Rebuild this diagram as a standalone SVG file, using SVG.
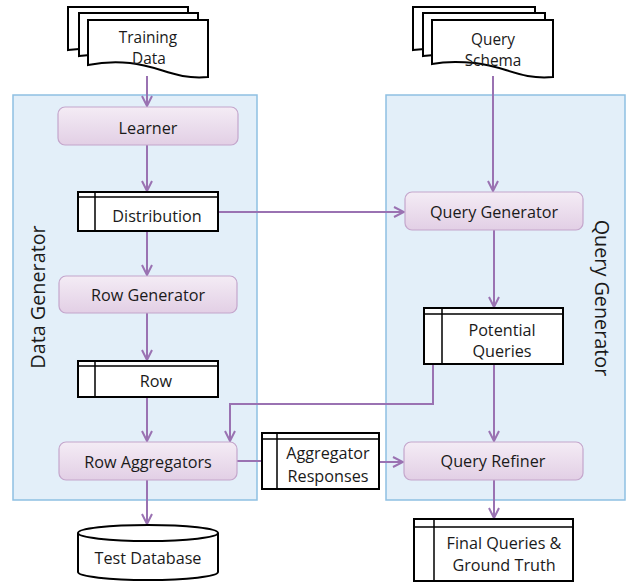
<svg xmlns="http://www.w3.org/2000/svg" width="629" height="585" viewBox="0 0 629 585">
  <defs>
    <linearGradient id="proc" x1="0" y1="0" x2="0" y2="1">
      <stop offset="0" stop-color="#f4ecf5"/>
      <stop offset="1" stop-color="#e2cfe5"/>
    </linearGradient>
    <marker id="arr" viewBox="0 0 12 12" refX="11" refY="6" markerWidth="12" markerHeight="12" markerUnits="userSpaceOnUse" orient="auto">
      <path d="M1,1 L11,6 L1,11" fill="none" stroke="#9a72b2" stroke-width="2"/>
    </marker>
    <style>
      .group { fill: #e3eff9; stroke: #8ec0e2; stroke-width: 1.5; }
      .proc { fill: url(#proc); stroke: #c4a6cc; stroke-width: 1.2; }
      .store { fill: #ffffff; stroke: #000000; stroke-width: 2; }
      .doc { fill: #ffffff; stroke: #000000; stroke-width: 2; }
      .thin { fill: none; stroke: #000000; stroke-width: 1.5; }
      .conn { fill: none; stroke: #9a72b2; stroke-width: 2; }
      text { font-family: "Open Sans", "Liberation Sans", sans-serif; font-size: 16.2px; fill: #1a1a1a; text-anchor: middle; }
      .doctext { font-size: 15.4px; }
      .side { font-size: 19.8px; }
    </style>
  </defs>

  <!-- swimlane containers -->
  <g id="data-generator">
    <rect class="group" x="13" y="95" width="244" height="405"/>
    <text class="side" transform="translate(45,297) rotate(-90)">Data Generator</text>
  </g>
  <g id="query-generator">
    <rect class="group" x="386" y="95" width="239" height="405"/>
    <text class="side" transform="translate(595,298) rotate(90)">Query Generator</text>
  </g>

  <!-- connectors -->
  <g id="connectors">
    <path class="conn" d="M147,76 V106" marker-end="url(#arr)"/>
    <path class="conn" d="M147,145 V191" marker-end="url(#arr)"/>
    <path class="conn" d="M147,231 V275" marker-end="url(#arr)"/>
    <path class="conn" d="M147,313 V360" marker-end="url(#arr)"/>
    <path class="conn" d="M147,397 V441" marker-end="url(#arr)"/>
    <path class="conn" d="M147,480 V524" marker-end="url(#arr)"/>
    <path class="conn" d="M218,212 H404" marker-end="url(#arr)"/>
    <path class="conn" d="M493,76 V191" marker-end="url(#arr)"/>
    <path class="conn" d="M494,230 V307" marker-end="url(#arr)"/>
    <path class="conn" d="M494,364 V441" marker-end="url(#arr)"/>
    <path class="conn" d="M433,364 V404 H230 V441" marker-end="url(#arr)"/>
    <path class="conn" d="M237,461 H262"/>
    <path class="conn" d="M379,462 H403" marker-end="url(#arr)"/>
    <path class="conn" d="M494,480 V518" marker-end="url(#arr)"/>
  </g>

  <!-- input documents -->
  <g id="training-data">
    <path class="doc" d="M68,7 H188 V52 C150,58 110,44 68,50 Z"/>
    <path class="doc" d="M79,13 H198 V58 C160,64 120,50 79,56 Z"/>
    <path class="doc" d="M88,20 H208 V77 C175,80 160,66 130,63 C110,61 98,63 88,65 Z"/>
    <text class="doctext" x="148" y="43">Training</text>
    <text class="doctext" x="149" y="64">Data</text>
  </g>
  <g id="query-schema">
    <path class="doc" d="M413,7 H535 V52 C497,58 456,44 413,50 Z"/>
    <path class="doc" d="M423,13 H545 V58 C507,64 466,50 423,56 Z"/>
    <path class="doc" d="M432,20 H553 V77 C520,80 505,66 475,63 C455,61 442,62 432,64 Z"/>
    <text class="doctext" x="493" y="45">Query</text>
    <text class="doctext" x="493" y="66">Schema</text>
  </g>

  <!-- data generator steps -->
  <g id="learner">
    <rect class="proc" x="58" y="107" width="180" height="38" rx="7"/>
    <text x="148" y="134">Learner</text>
  </g>
  <g id="distribution">
    <rect class="store" x="78" y="192" width="140" height="39"/>
    <path class="thin" d="M78,197 H218 M95,192 V231"/>
    <text x="157" y="222">Distribution</text>
  </g>
  <g id="row-generator">
    <rect class="proc" x="59" y="276" width="178" height="37" rx="7"/>
    <text x="148" y="301">Row Generator</text>
  </g>
  <g id="row">
    <rect class="store" x="78" y="361" width="140" height="36"/>
    <path class="thin" d="M78,366 H218 M95,361 V397"/>
    <text x="156" y="387">Row</text>
  </g>
  <g id="row-aggregators">
    <rect class="proc" x="59" y="442" width="178" height="38" rx="7"/>
    <text x="148" y="468">Row Aggregators</text>
  </g>
  <g id="test-database">
    <path class="store" d="M78,533 V572 A70,8 0 0 0 218,572 V533"/>
    <ellipse class="store" cx="148" cy="533" rx="70" ry="8"/>
    <text x="148" y="564">Test Database</text>
  </g>

  <!-- hand-off between lanes -->
  <g id="aggregator-responses">
    <rect class="store" x="262" y="433" width="117" height="56"/>
    <path class="thin" d="M262,439 H379 M277,433 V489"/>
    <text x="328" y="459">Aggregator</text>
    <text x="328" y="482">Responses</text>
  </g>

  <!-- query generator steps -->
  <g id="query-generator-step">
    <rect class="proc" x="405" y="192" width="178" height="38" rx="7"/>
    <text x="494" y="218">Query Generator</text>
  </g>
  <g id="potential-queries">
    <rect class="store" x="424" y="308" width="139" height="56"/>
    <path class="thin" d="M424,314 H563 M442,308 V364"/>
    <text x="502" y="336">Potential</text>
    <text x="502" y="357">Queries</text>
  </g>
  <g id="query-refiner">
    <rect class="proc" x="404" y="442" width="179" height="38" rx="7"/>
    <text x="493" y="467">Query Refiner</text>
  </g>
  <g id="final-queries">
    <rect class="store" x="414" y="519" width="159" height="62"/>
    <path class="thin" d="M414,527 H573 M434,519 V581"/>
    <text x="504" y="549">Final Queries &amp;</text>
    <text x="504" y="571">Ground Truth</text>
  </g>
</svg>
